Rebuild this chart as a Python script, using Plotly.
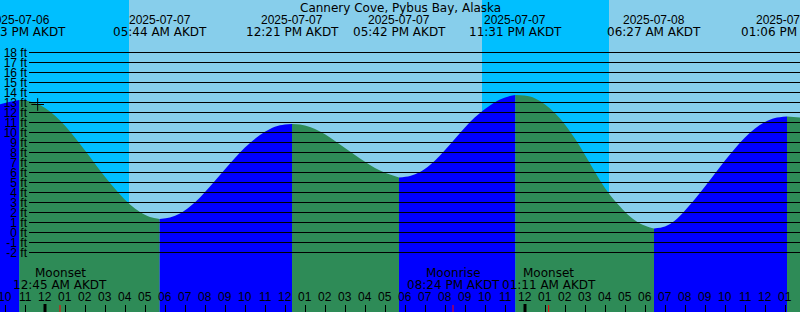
import plotly.graph_objects as go
import pandas as pd

# ---------------- data ----------------
title = "Cannery Cove, Pybus Bay, Alaska"
x_start = "2025-07-06 21:45"
x_end = "2025-07-08 13:45"

# tide extremes (high / low)
event_times = ["2025-07-06 22:43", "2025-07-07 05:44", "2025-07-07 12:21",
               "2025-07-07 17:42", "2025-07-07 23:31", "2025-07-08 06:27",
               "2025-07-08 13:06"]
event_levels = [13.25, 1.35, 10.85, 5.5, 13.75, 0.4, 11.6]
event_dates = ["2025-07-06", "2025-07-07", "2025-07-07", "2025-07-07",
               "2025-07-07", "2025-07-08", "2025-07-08"]
event_clock = ["10:43 PM AKDT", "05:44 AM AKDT", "12:21 PM AKDT",
               "05:42 PM AKDT", "11:31 PM AKDT", "06:27 AM AKDT",
               "01:06 PM AKDT"]

# tide level (ft)
curve_times = [
    "2025-07-06 21:45", "2025-07-06 22:15", "2025-07-06 23:15", "2025-07-06 23:45",
    "2025-07-07 00:15", "2025-07-07 00:45", "2025-07-07 01:15", "2025-07-07 01:45",
    "2025-07-07 02:15", "2025-07-07 02:45", "2025-07-07 03:15", "2025-07-07 03:45",
    "2025-07-07 04:15", "2025-07-07 04:45", "2025-07-07 05:15",
    "2025-07-07 06:15", "2025-07-07 06:45", "2025-07-07 07:15", "2025-07-07 07:45",
    "2025-07-07 08:15", "2025-07-07 08:45", "2025-07-07 09:15", "2025-07-07 09:45",
    "2025-07-07 10:15", "2025-07-07 10:45", "2025-07-07 11:15", "2025-07-07 11:45",
    "2025-07-07 12:45", "2025-07-07 13:15", "2025-07-07 13:45", "2025-07-07 14:15",
    "2025-07-07 14:45", "2025-07-07 15:15", "2025-07-07 15:45", "2025-07-07 16:15",
    "2025-07-07 16:45", "2025-07-07 17:15",
    "2025-07-07 18:15", "2025-07-07 18:45", "2025-07-07 19:15", "2025-07-07 19:45",
    "2025-07-07 20:15", "2025-07-07 20:45", "2025-07-07 21:15", "2025-07-07 21:45",
    "2025-07-07 22:15", "2025-07-07 22:45", "2025-07-07 23:15",
    "2025-07-08 00:15", "2025-07-08 00:45", "2025-07-08 01:15", "2025-07-08 01:45",
    "2025-07-08 02:15", "2025-07-08 02:45", "2025-07-08 03:15", "2025-07-08 03:45",
    "2025-07-08 04:15", "2025-07-08 04:45", "2025-07-08 05:15", "2025-07-08 05:45",
    "2025-07-08 06:15",
    "2025-07-08 07:00", "2025-07-08 07:30", "2025-07-08 08:00", "2025-07-08 08:30",
    "2025-07-08 09:00", "2025-07-08 09:30", "2025-07-08 10:00", "2025-07-08 10:30",
    "2025-07-08 11:00", "2025-07-08 11:30", "2025-07-08 12:00", "2025-07-08 12:30",
    "2025-07-08 13:45",
]
curve_levels = [
    12.82, 13.08, 13.1, 12.75,
    12.1, 11.2, 10.1, 8.85,
    7.55, 6.2, 4.95, 3.8,
    2.8, 2.05, 1.55,
    1.5, 1.9, 2.6, 3.5,
    4.6, 5.75, 6.9, 8.0,
    8.95, 9.75, 10.35, 10.72,
    10.8, 10.55, 10.1, 9.5,
    8.8, 8.1, 7.4, 6.75,
    6.2, 5.8,
    5.65, 6.05, 6.75, 7.7,
    8.8, 9.95, 11.05, 11.95,
    12.7, 13.3, 13.65,
    13.6, 13.15, 12.4, 11.4,
    10.1, 8.6, 6.9, 5.2,
    3.75, 2.6, 1.6, 0.9,
    0.5,
    0.6, 1.2, 2.2, 3.35,
    4.6, 5.9, 7.2, 8.4,
    9.5, 10.4, 11.05, 11.45,
    11.5,
]

sunrise_times = ["2025-07-07 04:12", "2025-07-08 04:12"]
sunset_times = ["2025-07-07 21:51"]

moon_times = ["2025-07-07 00:45", "2025-07-07 20:24", "2025-07-08 01:11"]
moon_names = ["Moonset", "Moonrise", "Moonset"]
moon_clock = ["12:45 AM AKDT", "08:24 PM AKDT", "01:11 AM AKDT"]

now_time = "2025-07-06 23:38"
now_level = 12.8

midnights = ["2025-07-07 00:00", "2025-07-08 00:00"]
hour_first = "2025-07-06 22:00"
hour_last = "2025-07-08 13:00"

levels_ft = list(range(-2, 19))

# ---------------- style / layout ----------------
W, H = 800, 312
Y_TOP, Y_BOT = 23.25, -7.95          # ft at top / bottom edge (10 px per ft)
NIGHT, DAY = "#00BFFF", "#87CEEB"
FLOOD, EBB = "#0000FF", "#2E8B57"
GRID_X0 = 29 / W
SANS = "DejaVu Sans"
NARROW = "Liberation Sans"


def py(px):
    return 1 - px / H


fig = go.Figure()

# tide fill, one polygon per rising / falling stretch
ev = pd.DataFrame({"t": pd.to_datetime(event_times), "v": event_levels})
cv = pd.DataFrame({"t": pd.to_datetime(curve_times), "v": curve_levels})
pts = pd.concat([cv, ev]).sort_values("t").reset_index(drop=True)
bounds = [pts.t.iloc[0]] + list(ev.t) + [pts.t.iloc[-1]]
for a, b in zip(bounds[:-1], bounds[1:]):
    seg = pts[(pts.t >= a) & (pts.t <= b)]
    if len(seg) < 2:
        continue
    col = FLOOD if seg.v.iloc[-1] > seg.v.iloc[0] else EBB
    fig.add_trace(go.Scatter(x=[a, b], y=[Y_BOT - 3, Y_BOT - 3], mode="lines",
                             line=dict(width=0), hoverinfo="skip", showlegend=False))
    fig.add_trace(go.Scatter(x=seg.t, y=seg.v, mode="lines",
                             line=dict(width=0, shape="spline", color=col),
                             fill="tonexty", fillcolor=col,
                             hoverinfo="skip", showlegend=False))

# current-time mark
fig.add_trace(go.Scatter(x=[now_time], y=[now_level], mode="markers",
                         marker=dict(symbol="cross-thin", size=9,
                                     line=dict(width=1, color="black")),
                         hoverinfo="skip", showlegend=False))

shapes = []
# daylight bands over the night background
day_starts = sunrise_times
day_ends = sunset_times + [x_end]
for s, e in zip(day_starts, day_ends):
    shapes.append(dict(type="rect", xref="x", yref="paper", x0=s, x1=e, y0=0, y1=1,
                       fillcolor=DAY, line=dict(width=0), layer="below"))
# foot lines
for v in levels_ft:
    shapes.append(dict(type="line", xref="paper", yref="y", x0=GRID_X0, x1=1,
                       y0=v, y1=v, line=dict(color="black", width=1), layer="above"))
# midnight ticks
for m in midnights:
    shapes.append(dict(type="line", xref="x", yref="paper", x0=m, x1=m,
                       y0=0, y1=8 / H, line=dict(color="black", width=3), layer="above"))
# moon event ticks
for m in moon_times:
    shapes.append(dict(type="line", xref="x", yref="paper", x0=m, x1=m,
                       y0=0, y1=7 / H, line=dict(color="red", width=1), layer="above"))

ann = []
ann.append(dict(text=title, xref="paper", yref="paper", x=0.5, y=py(7.5),
                font=dict(family=SANS, size=12, color="black")))
for t, d, c in zip(event_times, event_dates, event_clock):
    ann.append(dict(text=d, xref="x", yref="paper", x=t, y=py(19.5),
                    font=dict(family=NARROW, size=12, color="black")))
    ann.append(dict(text=c, xref="x", yref="paper", x=t, y=py(31.7),
                    font=dict(family=SANS, size=12, color="black")))
for t, n, c in zip(moon_times, moon_names, moon_clock):
    ann.append(dict(text=n, xref="x", yref="paper", x=t, y=py(273.3),
                    font=dict(family=SANS, size=12, color="black")))
    ann.append(dict(text=c, xref="x", yref="paper", x=t, y=py(285.2),
                    font=dict(family=SANS, size=12, color="black")))
for h in pd.date_range(hour_first, hour_last, freq="h"):
    ann.append(dict(text=h.strftime("%I"), xref="x", yref="paper", x=h, y=py(297.2),
                    font=dict(family=NARROW, size=12, color="black")))
for a in ann:
    a.update(showarrow=False, xanchor="center", yanchor="middle", borderpad=0)

fig.update_layout(
    width=W, height=H, margin=dict(l=0, r=0, t=0, b=0),
    paper_bgcolor=NIGHT, plot_bgcolor="rgba(0,0,0,0)",
    showlegend=False, shapes=shapes, annotations=ann,
    xaxis=dict(type="date", range=[x_start, x_end], domain=[0, 1],
               tickmode="linear", tick0="2025-07-07 00:00", dtick=3600000,
               ticks="inside", ticklen=7, tickwidth=1, tickcolor="black",
               showticklabels=False, showgrid=False, zeroline=False,
               showline=False, layer="above traces", fixedrange=True),
    yaxis=dict(range=[Y_BOT, Y_TOP], domain=[0, 1], anchor="free", position=GRID_X0,
               tickmode="array", tickvals=levels_ft,
               ticktext=[f"{v} ft" for v in levels_ft],
               tickfont=dict(family=NARROW, size=12, color="black"),
               ticklabelstandoff=2,
               ticks="", showgrid=False, zeroline=False, showline=False,
               layer="above traces", fixedrange=True),
)

fig.write_html("out.html")
